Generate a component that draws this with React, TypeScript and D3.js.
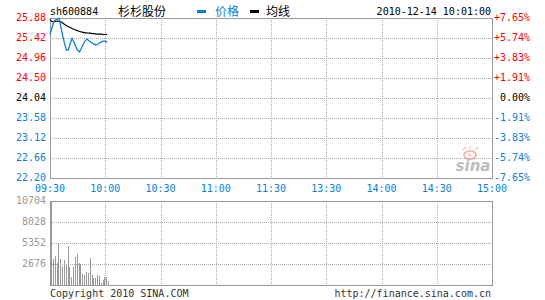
import React from "react";
import * as d3 from "d3";

const preClose = 24.04;
const priceTicks = [25.88, 25.42, 24.96, 24.5, 24.04, 23.58, 23.12, 22.66, 22.2];
const pctTicks = ["+7.65%", "+5.74%", "+3.83%", "+1.91%", "0.00%", "-1.91%", "-3.83%", "-5.74%", "-7.65%"];
const timeTicks = ["09:30", "10:00", "10:30", "11:00", "11:30", "13:30", "14:00", "14:30", "15:00"];
const volTicks = [10704, 8028, 5352, 2676];

const prices = [
  25.5, 25.65, 25.8, 25.84, 25.86, 25.87, 25.65, 25.45, 25.28, 25.14, 25.15, 25.3, 25.41, 25.33, 25.22, 25.14,
  25.1, 25.18, 25.27, 25.35, 25.4, 25.36, 25.33, 25.3, 25.28, 25.26, 25.27, 25.31, 25.33, 25.35, 25.35, 25.32,
];
const avgPrices = [
  25.84, 25.8, 25.79, 25.8, 25.81, 25.81, 25.79, 25.76, 25.73, 25.7, 25.68, 25.66, 25.64, 25.62, 25.6, 25.59,
  25.57, 25.56, 25.55, 25.54, 25.54, 25.53, 25.53, 25.52, 25.52, 25.51, 25.51, 25.51, 25.51, 25.5, 25.5, 25.5,
];
const volumes = [
  10704, 3315, 3700, 2800, 5310, 3315, 2340, 3190, 2680, 4970, 2340, 1020, 2340, 3570, 3950, 2800,
  2680, 1400, 1275, 1660, 1530, 3440, 1275, 890, 890, 1275, 1150, 300, 640, 1020, 1020, 510,
];

const RED = "#ff0000";
const BLUE = "#0a80d8";
const GREY = "#999999";
const GRID = "#aaaaaa";
const MONO = "'DejaVu Sans Mono', 'Liberation Mono', monospace";
const CJK = "'Noto Sans CJK SC', sans-serif";

const L = 50, R = 492, T = 18, B = 178, VT = 201, VB = 285;

export default function App() {
  const x = d3.scaleLinear().domain([0, 240]).range([L, R]);
  const y = d3.scaleLinear().domain([22.2, 25.88]).range([B, T]);
  const vy = d3.scaleLinear().domain([0, 10704]).range([VB, VT]);
  const line = d3.line<number>().x((_, i) => x(i)).y((d) => y(d));
  const colorFor = (i: number) => (i < 4 ? RED : i === 4 ? "#000" : BLUE);
  const gridXs = timeTicks.map((_, i) => x(i * 30));

  return (
    <svg width={545} height={300} style={{ position: "absolute", left: 0, top: 0 }}>
      <rect width={545} height={300} fill="#fff" />
      {/* header */}
      <text x={50} y={15} fontFamily={MONO} fontSize={10} fill="#000">sh600884</text>
      <text x={118} y={16} fontFamily={CJK} fontSize={12} fill="#000">杉杉股份</text>
      <rect x={197} y={10} width={9} height={3} fill={BLUE} />
      <text x={215} y={16} fontFamily={CJK} fontSize={12} fill={BLUE}>价格</text>
      <rect x={250} y={10} width={9} height={3} fill="#000" />
      <text x={266} y={16} fontFamily={CJK} fontSize={12} fill="#000">均线</text>
      <text x={491} y={15} fontFamily={MONO} fontSize={10} fill="#000" textAnchor="end">2010-12-14 10:01:00</text>

      {/* main grid */}
      {priceTicks.slice(1, -1).map((p, i) => (
        <line key={"h" + i} x1={L} x2={R} y1={Math.round(y(p)) + 0.5} y2={Math.round(y(p)) + 0.5} stroke={GRID} strokeDasharray="1,1" />
      ))}
      {gridXs.slice(1, -1).map((gx, i) => (
        <line key={"v" + i} x1={Math.round(gx) + 0.5} x2={Math.round(gx) + 0.5} y1={T} y2={B} stroke={GRID} strokeDasharray="1,1" />
      ))}
      <rect x={L + 0.5} y={T + 0.5} width={R - L} height={B - T} fill="none" stroke={GREY} />

      {/* sina watermark */}
      <g opacity={0.55}>
        <ellipse cx={470} cy={155} rx={6} ry={4} fill="none" stroke="#f08080" strokeWidth={2} />
        <circle cx={470} cy={155} r={1.5} fill="#f08080" />
        <path d="M463,150 L466,147 M470,149 L470,146 M476,150 L478,147" stroke="#f08080" strokeWidth={1.2} />
        <text x={473} y={171} fontFamily="'DejaVu Sans', sans-serif" fontSize={15} fontStyle="italic" fontWeight="bold" fill="#888" textAnchor="middle">sina</text>
      </g>

      {/* lines */}
      <path d={line(avgPrices) || ""} fill="none" stroke="#000" strokeWidth={1.2} />
      <path d={line(prices) || ""} fill="none" stroke={BLUE} strokeWidth={1.3} />

      {/* left/right labels */}
      {priceTicks.map((p, i) => (
        <text key={"lp" + i} x={46} y={y(p) + 3} fontFamily={MONO} fontSize={10} fill={colorFor(i)} textAnchor="end">
          {p.toFixed(2)}
        </text>
      ))}
      {pctTicks.map((p, i) => (
        <text key={"rp" + i} x={i === 4 ? 500 : 494} y={y(priceTicks[i]) + 3} fontFamily={MONO} fontSize={10} fill={colorFor(i)}>
          {p}
        </text>
      ))}
      {timeTicks.map((t, i) => (
        <text key={"t" + i} x={gridXs[i]} y={192} fontFamily={MONO} fontSize={10} fill={BLUE} textAnchor="middle">
          {t}
        </text>
      ))}

      {/* volume */}
      {volTicks.slice(1).map((v, i) => (
        <line key={"vh" + i} x1={L} x2={R} y1={Math.round(vy(v)) + 0.5} y2={Math.round(vy(v)) + 0.5} stroke={GRID} strokeDasharray="1,1" />
      ))}
      {gridXs.slice(1, -1).map((gx, i) => (
        <line key={"vv" + i} x1={Math.round(gx) + 0.5} x2={Math.round(gx) + 0.5} y1={VT} y2={VB} stroke={GRID} strokeDasharray="1,1" />
      ))}
      {volumes.map((v, i) => (
        <rect key={"b" + i} x={Math.round(x(i)) + 1} y={vy(v)} width={1} height={VB - vy(v)} fill={GREY} />
      ))}
      <rect x={L + 0.5} y={VT + 0.5} width={R - L} height={VB - VT} fill="none" stroke={GREY} />
      {volTicks.map((v, i) => (
        <text key={"vl" + i} x={46} y={vy(v) + 3} fontFamily={MONO} fontSize={10} fill={GREY} textAnchor="end">
          {v}
        </text>
      ))}

      {/* footer */}
      <text x={50} y={297} fontFamily={MONO} fontSize={10} fill="#333">Copyright 2010 SINA.COM</text>
      <text x={491} y={297} fontFamily={MONO} fontSize={10} fill="#333" textAnchor="end">http://finance.sina.com.cn</text>
    </svg>
  );
}
